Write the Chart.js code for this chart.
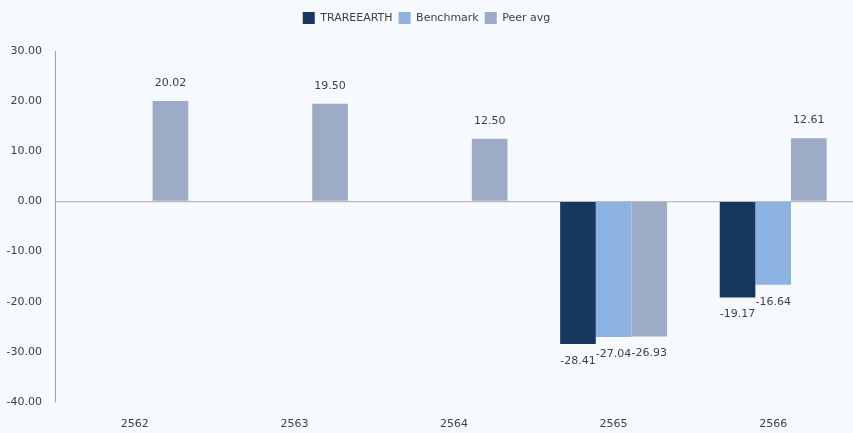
<!DOCTYPE html>
<html>
<head>
<meta charset="utf-8">
<script src="https://cdn.jsdelivr.net/npm/chart.js@4"></script>
<style>
  html, body { margin: 0; padding: 0; background: #f7fafd; }
  #wrap { width: 853px; height: 433px; }
</style>
</head>
<body>
<div id="wrap"><canvas id="myChart"></canvas></div>
<script>
const years = ["2562", "2563", "2564", "2565", "2566"];
const fundValues = [null, null, null, -28.41, -19.17];
const benchmarkValues = [null, null, null, -27.04, -16.64];
const peerValues = [20.02, 19.5, 12.5, -26.93, 12.61];
const yTicks = { min: -40, max: 30, step: 10 };

const font = "'DejaVu Sans', Verdana, sans-serif";

// draws the value above / below each bar
const valueLabels = {
  id: "valueLabels",
  afterDatasetsDraw(chart) {
    const ctx = chart.ctx;
    ctx.save();
    ctx.font = "11px " + font;
    ctx.fillStyle = "#404040";
    ctx.textAlign = "center";
    ctx.textBaseline = "middle";
    chart.data.datasets.forEach((ds, i) => {
      const meta = chart.getDatasetMeta(i);
      meta.data.forEach((bar, j) => {
        const v = ds.data[j];
        if (v === null || v === undefined) return;
        const y = v >= 0 ? bar.y - 18 : bar.y + 17;
        ctx.fillText(v.toFixed(2), bar.x, y);
      });
    });
    ctx.restore();
  },
};

// extra room under the legend
const legendGap = {
  id: "legendGap",
  beforeInit(chart) {
    const fit = chart.legend.fit;
    chart.legend.fit = function () {
      fit.bind(chart.legend)();
      this.height += 17;
    };
  },
};

let ctx = document.getElementById("myChart").getContext("2d");
new Chart(ctx, {
  type: "bar",
  data: {
    labels: years,
    datasets: [
      { label: "TRAREEARTH", data: fundValues, backgroundColor: "#17375e" },
      { label: "Benchmark", data: benchmarkValues, backgroundColor: "#8db3e2" },
      { label: "Peer avg", data: peerValues, backgroundColor: "#9dabc6" },
    ],
  },
  options: {
    responsive: true,
    maintainAspectRatio: false,
    animation: false,
    layout: { padding: { top: 6, right: 0, left: 0, bottom: 0 } },
    datasets: { bar: { categoryPercentage: 0.67, barPercentage: 1.0 } },
    plugins: {
      legend: {
        position: "top",
        labels: {
          boxWidth: 12,
          boxHeight: 12,
          padding: 6,
          color: "#404040",
          font: { family: font, size: 11 },
        },
      },
      tooltip: { enabled: false },
    },
    scales: {
      x: {
        grid: { display: false, drawTicks: false },
        border: { display: false },
        ticks: { color: "#404040", font: { family: font, size: 11 }, padding: 16 },
        afterFit: (scale) => { scale.height = 31; },
      },
      y: {
        min: yTicks.min,
        max: yTicks.max,
        ticks: {
          stepSize: yTicks.step,
          color: "#404040",
          font: { family: font, size: 11 },
          padding: 13,
          callback: (v) => v.toFixed(2),
        },
        grid: {
          drawTicks: false,
          color: (c) => (c.tick && c.tick.value === 0 ? "#b8b8b8" : "transparent"),
          lineWidth: 1.2,
        },
        border: { color: "#a0a0a0", width: 1 },
        afterFit: (scale) => { scale.width = 55; },
      },
    },
  },
  plugins: [valueLabels, legendGap],
});
</script>
</body>
</html>
